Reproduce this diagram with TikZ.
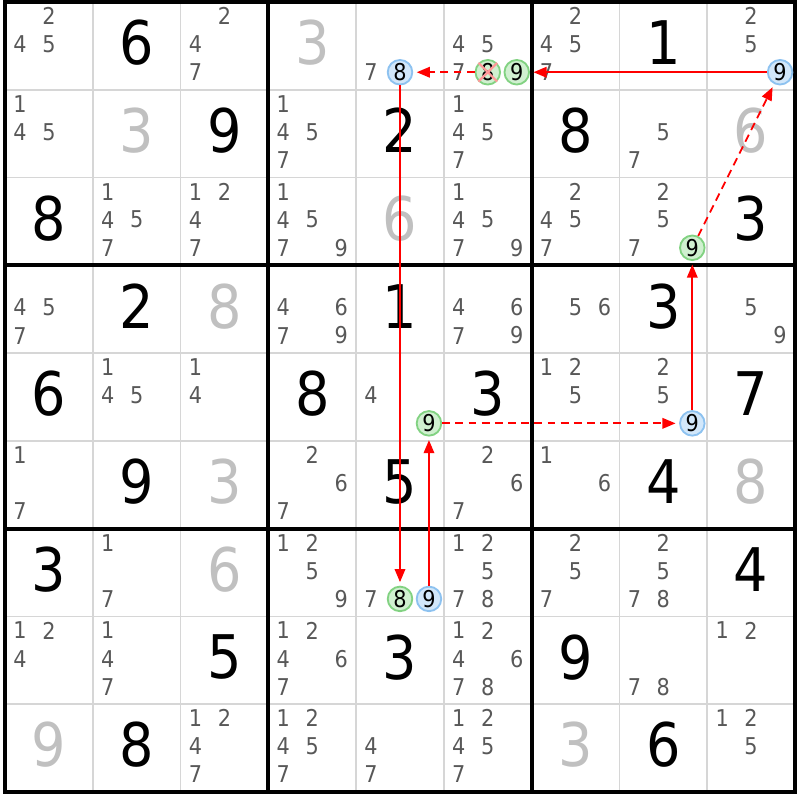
\documentclass[tikz,border=0pt]{standalone}
\usepackage{fontspec}
\setmainfont{DejaVu Sans Condensed}
\usetikzlibrary{arrows.meta}
\definecolor{candgrey}{HTML}{585858}
\definecolor{solvedgrey}{HTML}{C0C0C0}
\definecolor{thingrid}{HTML}{D6D6D6}
\definecolor{blueline}{HTML}{8DC2F0}
\definecolor{bluefill}{HTML}{D2E7FA}
\definecolor{greenline}{HTML}{82D282}
\definecolor{greenfill}{HTML}{D0F0D0}
\tikzstyle{given} = [inner sep=0pt, font=\fontsize{19.5}{20}\selectfont, text=black]
\tikzstyle{solved} = [given, text=solvedgrey]
\tikzstyle{cand} = [inner sep=0pt, font=\fontsize{7.5}{8}\selectfont, text=candgrey]
\tikzstyle{hlblue} = [circle, minimum size=2.8mm, inner sep=0pt, draw=blueline, line width=0.6pt, fill=bluefill,
,font=\fontsize{7.5}{8}\selectfont]
\tikzstyle{hlgreen} = [hlblue, draw=greenline, fill=greenfill]
\tikzstyle{link} = [red, line width=0.6pt, -{Triangle[length=1.5mm,width=1.2mm]}, shorten >=0.4mm]
\tikzstyle{weaklink} = [link, dash pattern=on 0.9mm off 0.6mm]
\tikzstyle{xcross} = [red!40, line width=0.7pt]

\begin{document}
\begin{tikzpicture}
                \useasboundingbox (-0.057,-0.091) rectangle (9.057,9.023);
                \draw [thingrid, line width=0.6pt] (0,0) grid (9,9);
                \draw [step=3, line width=1.3pt] (0,0) grid (9,9);
                \draw [line width=1.3pt] (0,0) rectangle (9,9);
                \foreach \r/\c/\d in {1/2/6, 1/8/1, 2/3/9, 2/5/2, 2/7/8, 3/1/8, 3/9/3, 4/2/2, 4/5/1, 4/8/3,
                    5/1/6, 5/4/8, 5/6/3, 5/9/7, 6/2/9, 6/5/5, 6/8/4, 7/1/3, 7/9/4, 8/3/5, 8/5/3, 8/7/9,
                    9/2/8, 9/8/6}
                    \node (g\r\c) [given] at (\c-0.5,9.535-\r) {\d};
                \foreach \r/\c/\d in {1/4/3, 2/2/3, 2/9/6, 3/5/6, 4/3/8, 6/3/3, 6/9/8, 7/3/6, 9/1/9, 9/7/3}
                    \node (s\r\c) [solved] at (\c-0.5,9.535-\r) {\d};
                \foreach \r/\c/\list in {1/1/{2,4,5}, 1/3/{2,4,7}, 1/5/{7,8}, 1/6/{4,5,7,8,9}, 1/7/{2,4,5,7},
                    1/9/{2,5,9}, 2/1/{1,4,5}, 2/4/{1,4,5,7}, 2/6/{1,4,5,7}, 2/8/{5,7}, 3/2/{1,4,5,7},
                    3/3/{1,2,4,7}, 3/4/{1,4,5,7,9}, 3/6/{1,4,5,7,9}, 3/7/{2,4,5,7}, 3/8/{2,5,7,9},
                    4/1/{4,5,7}, 4/4/{4,6,7,9}, 4/6/{4,6,7,9}, 4/7/{5,6}, 4/9/{5,9}, 5/2/{1,4,5},
                    5/3/{1,4}, 5/5/{4,9}, 5/7/{1,2,5}, 5/8/{2,5,9}, 6/1/{1,7}, 6/4/{2,6,7}, 6/6/{2,6,7},
                    6/7/{1,6}, 7/2/{1,7}, 7/4/{1,2,5,9}, 7/5/{7,8,9}, 7/6/{1,2,5,7,8}, 7/7/{2,5,7},
                    7/8/{2,5,7,8}, 8/1/{1,2,4}, 8/2/{1,4,7}, 8/4/{1,2,4,6,7}, 8/6/{1,2,4,6,7,8},
                    8/8/{7,8}, 8/9/{1,2}, 9/3/{1,2,4,7}, 9/4/{1,2,4,5,7}, 9/5/{4,7}, 9/6/{1,2,4,5,7},
                    9/9/{1,2,5}}
                    \foreach \k in \list {
                        \pgfmathsetmacro{\cx}{\c-0.5+0.33*(mod(\k-1,3)-1)}
                        \pgfmathsetmacro{\cy}{9.5-\r+0.34-0.32*floor((\k-1)/3)}
                        \node (c\r\c\k) [cand] at (\cx,\cy) {\k};
                    }
                \node (b158) [hlblue] at (c158) {8};
                \node (h168) [hlgreen] at (c168) {8};
                \node (h169) [hlgreen] at (c169) {9};
                \node (b199) [hlblue] at (c199) {9};
                \node (h389) [hlgreen] at (c389) {9};
                \node (h559) [hlgreen] at (c559) {9};
                \node (b589) [hlblue] at (c589) {9};
                \node (h758) [hlgreen] at (c758) {8};
                \node (b759) [hlblue] at (c759) {9};
                \draw [xcross] (h168.north west) -- (h168.south east) (h168.north east) -- (h168.south west);
                \draw [link] (b199) -- (h169);
                \draw [weaklink] (h168) -- (b158);
                \draw [link] (b158) -- (h758);
                \draw [link] (b759) -- (h559);
                \draw [weaklink] (h559) -- (b589);
                \draw [link] (b589) -- (h389);
                \draw [weaklink] (h389) -- (b199);
            \end{tikzpicture}
\end{document}
